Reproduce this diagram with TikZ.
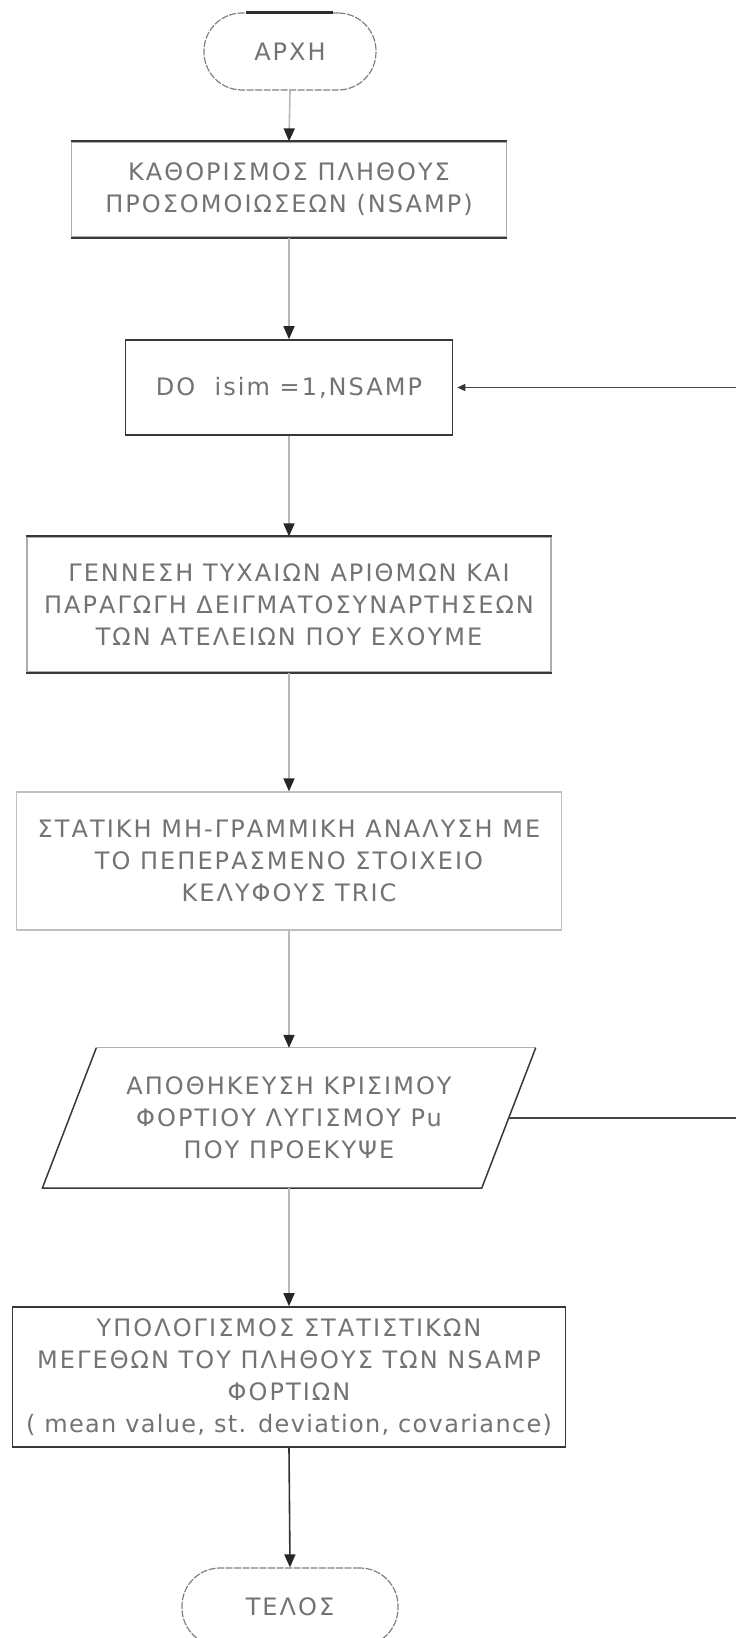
\documentclass[tikz,border=0pt]{standalone}
\usepackage{fontspec}
\setmainfont{DejaVu Sans}[LetterSpace=8.5]
\usetikzlibrary{arrows.meta,calc}
\begin{document}
\begin{tikzpicture}[x=1pt,y=-1pt,
  txt/.style={font=\fontsize{24}{32}\selectfont, text=black!55, align=center, inner sep=0pt},
  procbox/.style={txt, rectangle, draw=black!32, line width=1.3pt},
  darkbox/.style={txt, rectangle, draw=black!78, line width=1.6pt},
  termbox/.style={txt, rectangle, draw=black!50, line width=1.2pt, dash pattern=on 7pt off 1.5pt},
  darkedge/.style={draw=black!78, line width=1.8pt},
  flow/.style={draw=black!28, line width=1.6pt, -{Triangle[length=13pt,width=11pt,color=black!85]}},
  flowdark/.style={draw=black!80, line width=1.6pt, -{Triangle[length=13pt,width=11pt,color=black!85]}},
  loopline/.style={draw=black!72, line width=1.5pt, -{Triangle[length=8pt,width=7pt,color=black!80]}, shorten >=4pt}
]
\fill[white] (0,0) rectangle (736,1638);
\useasboundingbox (0,0) rectangle (736,1638);

\node[termbox, minimum width=172, minimum height=77, rounded corners=38] (arx) at (290,51.5) {ΑΡΧΗ};
\node[procbox, minimum width=435, minimum height=95] (kath) at (289,189.5) {ΚΑΘΟΡΙΣΜΟΣ ΠΛΗΘΟΥΣ\\ΠΡΟΣΟΜΟΙΩΣΕΩΝ (NSAMP)};
\node[darkbox, minimum width=327, minimum height=95] (do) at (289,387.5) {DO\ \ isim =1,NSAMP};
\node[procbox, minimum width=524, minimum height=135] (gen) at (289,604.5) {ΓΕΝΝΕΣΗ ΤΥΧΑΙΩΝ ΑΡΙΘΜΩΝ ΚΑΙ\\ΠΑΡΑΓΩΓΗ ΔΕΙΓΜΑΤΟΣΥΝΑΡΤΗΣΕΩΝ\\ΤΩΝ ΑΤΕΛΕΙΩΝ ΠΟΥ ΕΧΟΥΜΕ};
\node[procbox, draw=black!25, minimum width=545, minimum height=138] (stat) at (289,861) {ΣΤΑΤΙΚΗ ΜΗ-ΓΡΑΜΜΙΚΗ ΑΝΑΛΥΣΗ ΜΕ\\ΤΟ ΠΕΠΕΡΑΣΜΕΝΟ ΣΤΟΙΧΕΙΟ\\ΚΕΛΥΦΟΥΣ TRIC};
\node[txt, minimum width=439, minimum height=140] (par) at (289,1118) {ΑΠΟΘΗΚΕΥΣΗ ΚΡΙΣΙΜΟΥ\\ΦΟΡΤΙΟΥ ΛΥΓΙΣΜΟΥ Pu\\ΠΟΥ ΠΡΟΕΚΥΨΕ};
\node[darkbox, minimum width=553, minimum height=140] (ypo) at (289,1377) {ΥΠΟΛΟΓΙΣΜΟΣ ΣΤΑΤΙΣΤΙΚΩΝ\\ΜΕΓΕΘΩΝ ΤΟΥ ΠΛΗΘΟΥΣ ΤΩΝ NSAMP\\ΦΟΡΤΙΩΝ\\{\addfontfeature{LetterSpace=5.5}( mean value, st. deviation, covariance)}};
\node[termbox, minimum width=216, minimum height=78, rounded corners=38] (tel) at (290,1607) {ΤΕΛΟΣ};

% darker edges seen in the reference
\draw[line width=3pt, black!82] ($(arx.north)+(-44,0)$) -- ($(arx.north)+(43,0)$);
\draw[darkedge] (kath.north west) -- (kath.north east);
\draw[darkedge] (kath.south west) -- (kath.south east);
\draw[darkedge] (gen.north west) -- (gen.north east);
\draw[darkedge] (gen.south west) -- (gen.south east);

% parallelogram outline
\draw[line width=1.3pt, draw=black!30] ($(par.north west)+(27,0)$) -- ($(par.north east)+(27,0)$);
\draw[line width=1.5pt, draw=black!78, line join=round] ($(par.north east)+(27,0)$) -- ($(par.south east)+(-27,0)$) -- ($(par.south west)+(-27,0)$) -- ($(par.north west)+(27,0)$);

% connectors
\draw[flow] (arx.south) -- (kath.north);
\draw[flow] (kath.south) -- (do.north);
\draw[flow] (do.south) -- (gen.north);
\draw[flow] (gen.south) -- (stat.north);
\draw[flow] (stat.south) -- (par.north);
\draw[flow] (par.south) -- (ypo.north);
\draw[flowdark] (ypo.south) -- (tel.north);
\draw[loopline] (par.east) -- ++(260,0) |- (do.east);
\end{tikzpicture}
\end{document}
